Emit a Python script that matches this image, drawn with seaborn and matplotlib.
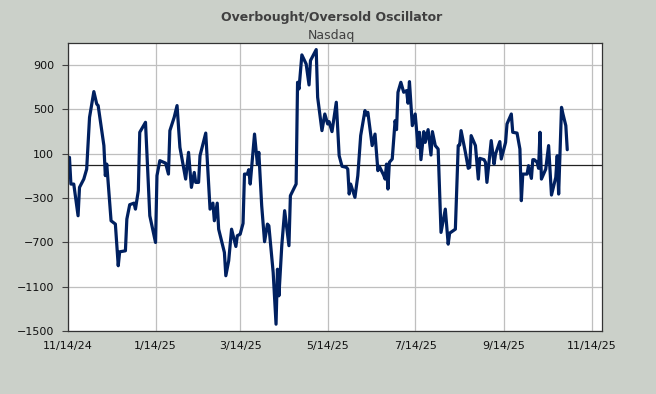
import matplotlib
matplotlib.use("Agg")
import matplotlib.pyplot as plt
import seaborn as sns
import pandas as pd

# chart data
start_date = "2024-11-14"
day_offsets = [
    1, 2, 4, 7, 8, 11, 13, 15, 18, 20, 21, 25, 26, 27, 30, 33, 35, 36, 40, 41,
    43, 46, 47, 49, 50, 54, 57, 61, 62, 64, 68, 70, 71, 74, 76, 78, 82, 84, 86, 88,
    89, 91, 92, 96, 99, 101, 102, 104, 105, 109, 110, 112, 114, 117, 118, 120, 122, 123, 125, 126,
    127, 130, 132, 133, 135, 137, 139, 140, 143, 145, 146, 147, 149, 151, 154, 155, 159, 160, 161, 163,
    166, 168, 169, 173, 174, 177, 179, 181, 182, 184, 187, 189, 191, 194, 195, 196, 197, 200, 202, 204,
    207, 208, 209, 212, 214, 216, 217, 220, 221, 222, 223, 224, 226, 228, 229, 230, 232, 234, 236, 237,
    238, 240, 242, 244, 245, 246, 248, 249, 251, 253, 254, 256, 258, 260, 263, 265, 266, 270, 272, 273,
    274, 277, 279, 280, 281, 284, 286, 287, 290, 291, 292, 295, 297, 298, 301, 302, 305, 306, 309, 310,
    313, 315, 316, 317, 320, 321, 323, 324, 325, 327, 328, 329, 330, 333, 335, 337, 340, 341, 342, 344,
    345, 347, 348,
]
oscillator = [
    66, -175, -175, -461, -205, -130, -40, 427, 659, 547, 533, 172, -99, 5, -506, -536, -912, -786, -777, -491,
    -361, -347, -401, -235, 292, 382, -461, -702, -99, 36, 14, -85, 307, 427, 533, 156, -130, 111, -205, -70,
    -160, -160, 81, 285, -401, -347, -506, -347, -582, -792, -1002, -867, -582, -738, -641, -627, -530, -85, -85, -45,
    -175, 276, 5, 111, -370, -695, -536, -551, -972, -1439, -943, -1183, -731, -415, -731, -280, -175, 743, 683, 990,
    908, 719, 939, 1038, 608, 307, 457, 367, 388, 298, 563, 81, -15, -24, -40, -265, -175, -295, -99, 262,
    488, 448, 472, 172, 276, -54, -15, -94, -130, 5, -220, 21, 51, 397, 316, 653, 743, 653, 668, 554,
    749, 352, 457, 156, 292, 45, 298, 201, 316, 87, 298, 172, 141, -611, -401, -717, -618, -582, 172, 177,
    307, 111, -33, -24, 262, 172, -130, 57, 45, 21, -160, 217, 5, 96, 208, 51, 201, 367, 457, 292,
    285, 141, -325, -85, -85, -9, -124, 45, 45, 21, -33, 292, -130, -40, 172, -274, -115, 81, -265, 517,
    457, 352, 135,
]
tick_dates = ["2024-11-14", "2025-01-14", "2025-03-14", "2025-05-14",
              "2025-07-14", "2025-09-14", "2025-11-14"]
tick_labels = ["11/14/24", "1/14/25", "3/14/25", "5/14/25", "7/14/25", "9/14/25", "11/14/25"]
y_ticks = [-1500, -1100, -700, -300, 100, 500, 900]

df = pd.DataFrame({
    "date": pd.Timestamp(start_date) + pd.to_timedelta(day_offsets, unit="D"),
    "value": oscillator,
})

sns.set_style("whitegrid")
plt.rcParams["font.family"] = ["DejaVu Sans"]

bg = "#cbd0c9"
fig = plt.figure(figsize=(6.56, 3.94), dpi=100, facecolor=bg)
ax = fig.add_axes([0.1037, 0.16, 0.8135, 0.7316])
ax.set_facecolor("white")

sns.lineplot(data=df, x="date", y="value", ax=ax, color="#002060", linewidth=2.3)
ax.axhline(0, color="#222222", linewidth=0.9, zorder=1)

ax.set_xlim(pd.Timestamp(start_date), pd.Timestamp("2025-11-21"))
ax.set_ylim(-1500, 1100)
ax.set_yticks(y_ticks)
ax.set_xticks(pd.to_datetime(tick_dates))
ax.set_xticklabels(tick_labels)
ax.set_xlabel("")
ax.set_ylabel("")

ax.grid(True, color="#bfbfbf", linewidth=0.9)
ax.tick_params(axis="y", which="both", length=4, width=0.8, color="#404040",
               left=True, pad=6, labelsize=8, labelcolor="#111111")
ax.tick_params(axis="x", length=0, pad=7, labelsize=8, labelcolor="#111111")
for s in ax.spines.values():
    s.set_color("#333333")
    s.set_linewidth(0.9)

fig.text(0.506, 0.955, "Overbought/Oversold Oscillator", ha="center", va="center",
         fontsize=9, fontweight="bold", color="#404040")
fig.text(0.506, 0.91, "Nasdaq", ha="center", va="center", fontsize=9, color="#404040")

fig.savefig("out.png", dpi=100, facecolor=bg)
plt.close(fig)
